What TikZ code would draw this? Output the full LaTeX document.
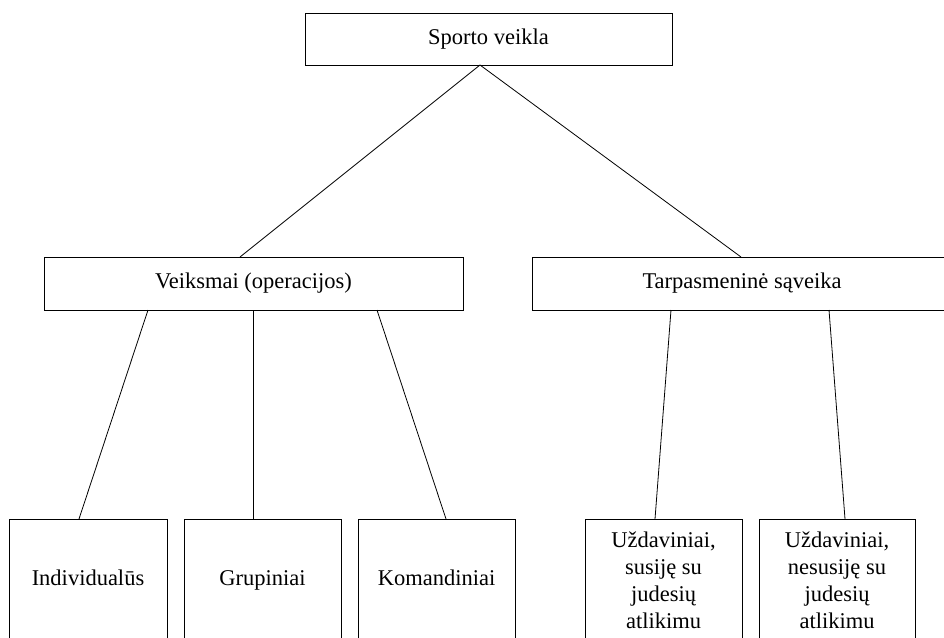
\documentclass[tikz,border=0pt]{standalone}
\usepackage{fontspec}
\setmainfont{Liberation Serif}
\begin{document}
\begin{tikzpicture}[x=1pt,y=1pt]
%%
\tikzset{blk/.style={draw,line width=0.9pt,inner sep=0,outer sep=0,align=center,font=\fontsize{22.5}{27}\selectfont}}
\tikzset{one/.style={text height=15pt,text depth=5pt}}
\newcommand{\blok}[6][one]{\node[blk,#1,minimum width=#4pt,minimum height=#5pt](#2) at #3 {#6};}
%%
\useasboundingbox (0,0) rectangle (944,-637);
%
\blok{sv}{(488.5,-39)}{367}{52}{Sporto veikla}
\blok{op}{(253.5,-283.5)}{419}{53}{Veiksmai (operacijos)}
\blok{ts}{(742,-283.5)}{420}{53}{Tarpasmeninė sąveika}
%
\blok{ind}{(88,-580)}{158}{122}{Individualūs}
\blok{grp}{(262.5,-580)}{157}{122}{Grupiniai}
\blok{kom}{(436.5,-580)}{157}{122}{Komandiniai}
\blok[]{sus}{(663.5,-580)}{157}{122}{Uždaviniai,\\ susiję su\\ judesių\\ atlikimu}
\blok[]{nsus}{(837,-580)}{156}{122}{Uždaviniai,\\ nesusiję su\\ judesių\\ atlikimu}
%
\draw[line width=0.8pt] ([xshift=-8.5pt]sv.south) -- ([xshift=-13.5pt]op.north);
\draw[line width=0.8pt] ([xshift=-8.5pt]sv.south) -- ([xshift=-1pt]ts.north);
\draw[line width=0.8pt] ([xshift=-105.5pt]op.south) -- ([xshift=-9pt]ind.north);
\draw[line width=0.8pt] ([xshift=-0.5pt]op.south) -- ([xshift=-9.5pt]grp.north);
\draw[line width=0.8pt] ([xshift=123.5pt]op.south) -- ([xshift=9.5pt]kom.north);
\draw[line width=0.8pt] ([xshift=-71pt]ts.south) -- ([xshift=-8.5pt]sus.north);
\draw[line width=0.8pt] ([xshift=87pt]ts.south) -- ([xshift=8pt]nsus.north);
\end{tikzpicture}
\end{document}
